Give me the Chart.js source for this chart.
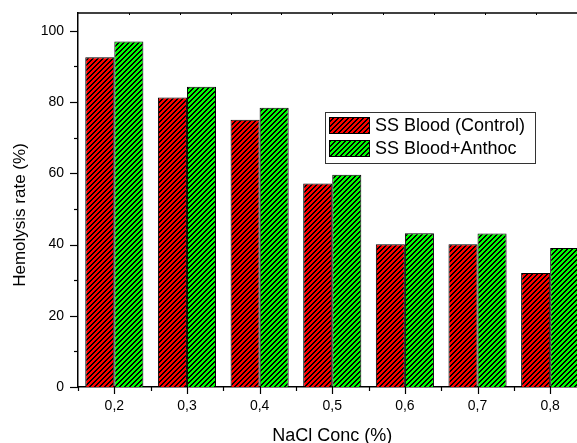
<!DOCTYPE html>
<html><head><meta charset="utf-8">
<script src="https://cdn.jsdelivr.net/npm/chart.js@4/dist/chart.umd.min.js"></script>
<style>html,body{margin:0;padding:0;overflow:hidden;background:#fff;width:577px;height:443px}
#wrap{width:600px;height:443px}</style></head><body>
<div id="wrap"><canvas id="c" width="600" height="443"></canvas></div>
<script>
const categories = ['0,2','0,3','0,4','0,5','0,6','0,7','0,8'];
const controlValues = [92.6, 81.3, 75.0, 57.1, 40.1, 40.1, 32.0];
const anthocValues = [97.0, 84.3, 78.4, 59.6, 43.2, 43.1, 39.0];
const seriesNames = ['SS Blood (Control)', 'SS Blood+Anthoc'];
const seriesColors = ['#ff0000', '#00ff00'];
const yTickValues = [0, 20, 40, 60, 80, 100];
const yTitle = 'Hemolysis rate (%)';
const xTitle = 'NaCl Conc (%)';
const FONT = 'Arial, "Liberation Sans", sans-serif';

function hatch(color) {
  const s = 5;
  const c = document.createElement('canvas');
  c.width = s; c.height = s;
  const g = c.getContext('2d');
  g.fillStyle = color; g.fillRect(0, 0, s, s);
  g.fillStyle = '#000';
  for (let x = 0; x < s; x++) for (let y = 0; y < s; y++) {
    if ((x + y) % s < 2) g.fillRect(x, y, 1, 1);
  }
  return document.getElementById('c').getContext('2d').createPattern(c, 'repeat');
}

const decor = {
  id: 'decor',
  afterDraw(chart) {
    const ctx = chart.ctx, xs = chart.scales.x, ys = chart.scales.y, a = chart.chartArea;
    ctx.save();
    ctx.strokeStyle = '#000';
    ctx.lineWidth = 1.2;
    for (let v = 0; v <= 100; v += 10) {
      const py = Math.round(ys.getPixelForValue(v)) + 0.5;
      const len = v % 20 === 0 ? 8 : 4;
      ctx.beginPath(); ctx.moveTo(a.left - len, py); ctx.lineTo(a.left, py); ctx.stroke();
    }
    const n = categories.length, cw = (a.right - a.left) / n;
    for (let i = 0; i < n; i++) {
      const px = Math.round(xs.getPixelForValue(i)) + 0.5;
      ctx.beginPath(); ctx.moveTo(px, a.bottom); ctx.lineTo(px, a.bottom + 7); ctx.stroke();
    }
    for (let i = 0; i <= n; i++) {
      const px = Math.round(a.left + i * cw) + 0.5;
      ctx.beginPath(); ctx.moveTo(px, a.bottom); ctx.lineTo(px, a.bottom + 4); ctx.stroke();
    }
    ctx.lineWidth = 1.5;
    ctx.beginPath(); ctx.moveTo(a.left, a.top); ctx.lineTo(a.right, a.top); ctx.stroke();
    ctx.beginPath(); ctx.moveTo(a.right, a.top); ctx.lineTo(a.right, a.bottom); ctx.stroke();
    ctx.lineWidth = 1;
    for (let i = 1; i < 10; i++) {
      const px = Math.round(a.left + i * (a.right - a.left) / 10) + 0.5;
      ctx.beginPath(); ctx.moveTo(px, a.top); ctx.lineTo(px, a.top + 2); ctx.stroke();
    }
    ctx.fillStyle = '#000';
    ctx.font = '17px ' + FONT;
    ctx.textAlign = 'center'; ctx.textBaseline = 'middle';
    ctx.save();
    ctx.translate(20, (a.top + a.bottom) / 2 + 15);
    ctx.rotate(-Math.PI / 2);
    ctx.fillText(yTitle, 0, 0);
    ctx.restore();
    const lx = a.left + (a.right - a.left) * 0.486;
    const ly = a.top + (a.bottom - a.top) * 0.264;
    const lw = 210, lh = 51;
    ctx.strokeStyle = '#333'; ctx.lineWidth = 1;
    ctx.strokeRect(Math.round(lx) + 0.5, Math.round(ly) + 0.5, lw, lh);
    ctx.font = '18px ' + FONT;
    ctx.textAlign = 'left';
    chart.data.datasets.forEach((ds, i) => {
      const sy = Math.round(ly) + 5 + i * 23;
      const sx = Math.round(lx) + 4;
      ctx.fillStyle = ds.backgroundColor;
      ctx.fillRect(sx, sy, 40, 16);
      ctx.strokeStyle = '#000';
      ctx.strokeRect(sx + 0.5, sy + 0.5, 40, 16);
      ctx.fillStyle = '#000';
      ctx.fillText(ds.label, sx + 46, sy + 9);
    });
    ctx.restore();
  }
};

new Chart(document.getElementById('c'), {
  type: 'bar',
  data: {
    labels: categories,
    datasets: [
      { label: seriesNames[0], data: controlValues, backgroundColor: hatch(seriesColors[0]), borderColor: '#000', borderWidth: 1 },
      { label: seriesNames[1], data: anthocValues, backgroundColor: hatch(seriesColors[1]), borderColor: '#000', borderWidth: 1 }
    ]
  },
  options: {
    responsive: false, animation: false, devicePixelRatio: 1,
    layout: { padding: { top: 13, right: 13.5, left: 0, bottom: 0 } },
    datasets: { bar: { barPercentage: 1.0, categoryPercentage: 0.8 } },
    plugins: { legend: { display: false }, tooltip: { enabled: false } },
    scales: {
      x: {
        type: 'category', offset: true,
        grid: { display: false, drawTicks: false },
        border: { display: true, color: '#000', width: 1.5 },
        ticks: { color: '#000', font: { family: FONT, size: 14 }, padding: 11, maxRotation: 0 },
        title: { display: true, text: xTitle, color: '#000', font: { family: FONT, size: 18, lineHeight: 0.8 }, padding: 0 },
        afterFit(s) { s.height = 56; s.paddingLeft = 0; s.paddingRight = 0; s.paddingTop = 0; s.paddingBottom = 0; }
      },
      y: {
        min: 0, max: 105,
        afterBuildTicks(s) { s.ticks = yTickValues.map(v => ({ value: v })); },
        grid: { display: false, drawTicks: false },
        border: { display: true, color: '#000', width: 1.5 },
        ticks: { color: '#000', font: { family: FONT, size: 14 }, padding: 14 },
        afterFit(s) { s.width = 78; s.paddingTop = 0; s.paddingBottom = 0; s.paddingLeft = 0; s.paddingRight = 0; }
      }
    }
  },
  plugins: [decor]
});
</script></body></html>
